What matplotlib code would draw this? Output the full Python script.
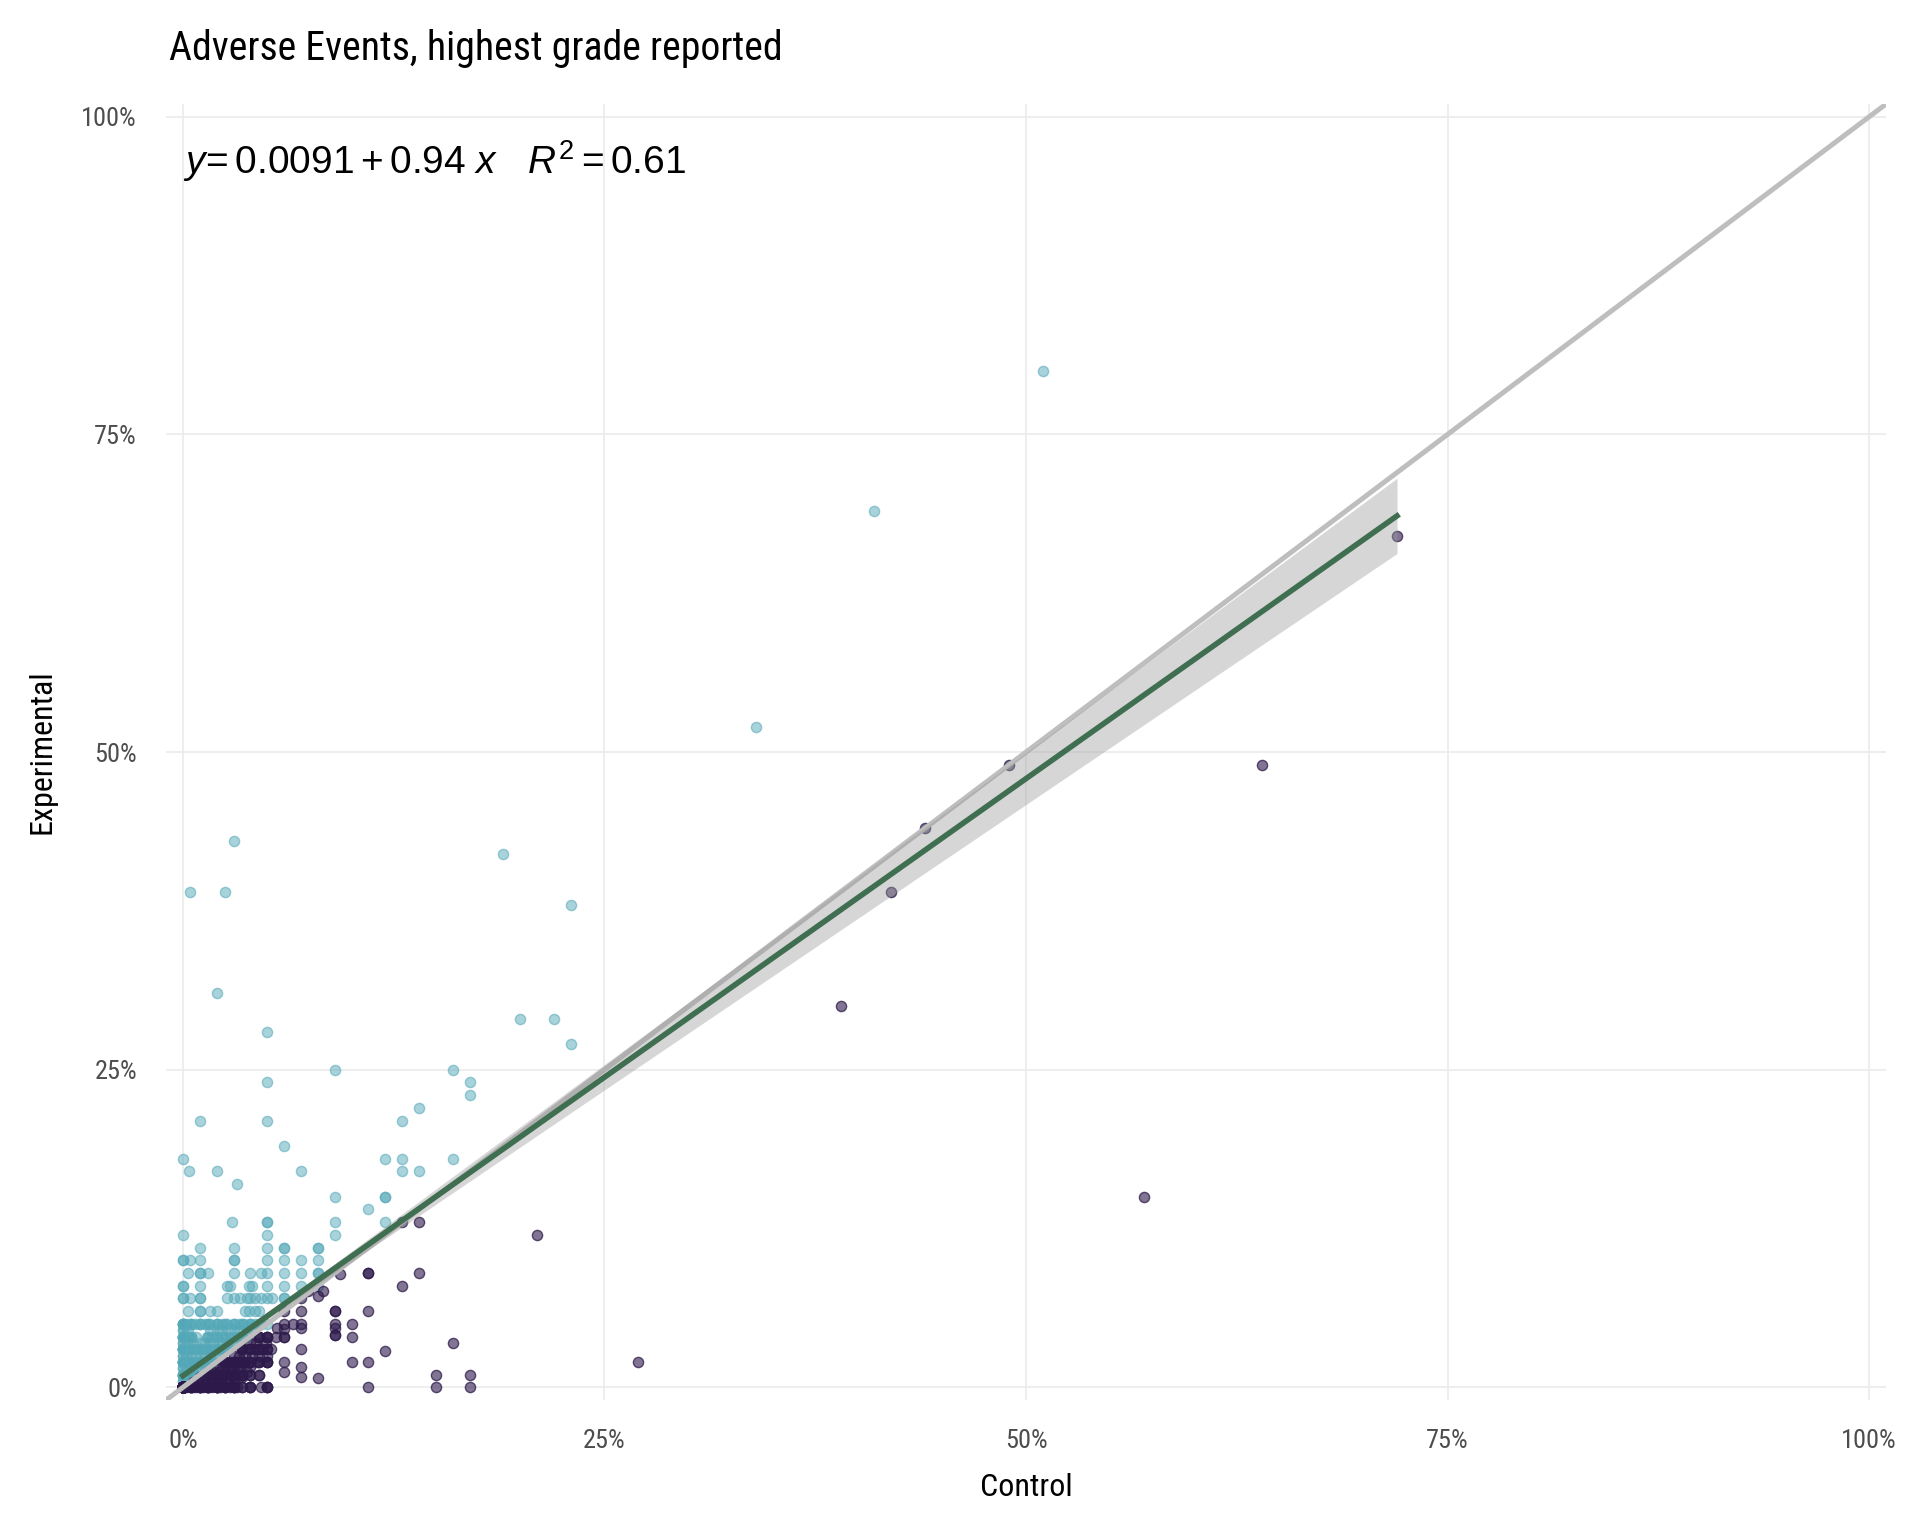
import numpy as np
import matplotlib
matplotlib.use("Agg")
import matplotlib.pyplot as plt
from matplotlib import font_manager as fm
from matplotlib.ticker import FuncFormatter

# ---------------- data (percent) ----------------
# points with Experimental above Control (teal)
teal_control = [
    51, 41, 34, 3, 0.4, 2.5, 19, 23, 2, 20, 22, 23, 5, 9, 16, 17, 17, 5, 1, 5, 13, 14, 6,
    0, 0.35, 2, 7, 3.2, 12, 13, 16, 13, 14, 9, 12, 12, 11, 2.9, 5, 5, 9, 12, 0, 5, 9,
    1, 3, 5, 6, 6, 8, 8,
    0, 0, 0.4, 1, 3, 3, 5, 6, 7, 8,
    0.3, 1, 1, 1.5, 3, 4, 4.6, 5, 6, 7, 8, 8,
    0, 0, 1, 2.6, 2.8, 3.9, 4.1, 5, 6, 7, 8,
    0, 0, 0.4, 1, 1, 2.6, 3, 3.4, 3.8, 4, 4.3, 4.6, 5, 5.3, 6, 6,
    0.3, 1, 1, 1.6, 2, 3.7, 3.9, 4.3, 4.5,
    0, 0, 0.2, 0.4, 0.7, 1, 1.3, 1.6, 2, 2.3, 2.6, 3, 3.3, 3.6, 4, 4.3, 4.6, 5,
    0, 0, 0.3, 1.6, 2, 2.3, 2.7, 3, 3.4, 3.8, 4.2,
    0, 0, 0, 0.3, 0.5, 0.8, 1.4, 1.7, 2, 2.4, 2.8, 3.2, 3.5, 3.8,
    0, 0, 0.3, 0.6, 1, 1.3, 1.6, 2, 2.3, 2.6, 3, 3.2,
    0, 0, 0, 0.3, 0.6, 0.9, 1.2, 1.5, 1.8, 2.1, 2.4, 2.7,
    0, 0, 0.2, 0.5, 0.8, 1, 1.3, 1.6, 1.9, 2.2,
    0, 0, 0, 0.3, 0.5, 0.8, 1, 1.2, 1.5, 1.7,
    0, 0, 0.2, 0.4, 0.6, 0.9, 1.1, 1.3,
    0, 0, 0, 0.2, 0.4, 0.6, 0.8,
    0, 0, 0.2, 0.4,
]
teal_experimental = [
    80, 69, 52, 43, 39, 39, 42, 38, 31, 29, 29, 27, 28, 25, 25, 24, 23, 24, 21, 21, 21, 22, 19,
    18, 17, 17, 17, 16, 18, 18, 18, 17, 17, 15, 15, 15, 14, 13, 13, 13, 13, 13, 12, 12, 12,
    11, 11, 11, 11, 11, 11, 11,
    10, 10, 10, 10, 10, 10, 10, 10, 10, 10,
    9, 9, 9, 9, 9, 9, 9, 9, 9, 9, 9, 9,
    8, 8, 8, 8, 8, 8, 8, 8, 8, 8, 8,
    7, 7, 7, 7, 7, 7, 7, 7, 7, 7, 7, 7, 7, 7, 7, 7,
    6, 6, 6, 6, 6, 6, 6, 6, 6,
    5, 5, 5, 5, 5, 5, 5, 5, 5, 5, 5, 5, 5, 5, 5, 5, 5, 5,
    4.5, 4.5, 4.5, 4.5, 4.5, 4.5, 4.5, 4.5, 4.5, 4.5, 4.5,
    4, 4, 4, 4, 4, 4, 4, 4, 4, 4, 4, 4, 4, 4,
    3.5, 3.5, 3.5, 3.5, 3.5, 3.5, 3.5, 3.5, 3.5, 3.5, 3.5, 3.5,
    3, 3, 3, 3, 3, 3, 3, 3, 3, 3, 3, 3,
    2.5, 2.5, 2.5, 2.5, 2.5, 2.5, 2.5, 2.5, 2.5, 2.5,
    2, 2, 2, 2, 2, 2, 2, 2, 2, 2,
    1.5, 1.5, 1.5, 1.5, 1.5, 1.5, 1.5, 1.5,
    1, 1, 1, 1, 1, 1, 1,
    0.5, 0.5, 0.5, 0.5,
]
# heavily overplotted teal spots in the corner: location and number of points
teal_core_control = [0, 0.5,
                     0, 0.5, 1, 1.5,
                     0, 0.5, 1, 1.5, 2, 2.5,
                     0, 0.5, 1.5, 2, 2.5, 3, 3.5,
                     0, 0.5, 1, 1.5, 2, 2.5, 3, 3.5, 4, 4.5]
teal_core_experimental = [1, 1,
                          2, 2, 2, 2,
                          3, 3, 3, 3, 3, 3,
                          4, 4, 4, 4, 4, 4, 4,
                          5, 5, 5, 5, 5, 5, 5, 5, 5, 5]
teal_core_count = [5, 3,
                   5, 3, 3, 2,
                   5, 3, 3, 3, 3, 2,
                   4, 2, 2, 2, 2, 2, 2,
                   4, 2, 2, 2, 2, 2, 2, 2, 2, 2]

# points with Experimental at or below Control (purple)
purple_control = [
    72, 64, 49, 44, 42, 39, 57, 27, 21, 14, 13, 14, 13, 11, 11, 11, 12, 16, 10, 10, 10, 11,
    15, 17, 11, 15, 17, 9.3, 9, 9, 9, 9, 9, 9, 7, 6, 6, 6.5, 7, 6, 6, 5.6, 6, 7, 6, 6, 7, 8,
    7, 7.4, 8, 8.3, 7, 7,
    0, 0, 0.2, 0.4, 0.6, 0.8, 1, 1.2, 1.4, 1.7, 2, 2.2, 2.5, 2.8, 3, 3.2, 4, 4.6, 5,
    0.6, 0.9, 1.2, 1.5, 1.8, 2.2, 2.6, 3,
    1, 1.3, 1.6, 2, 2.3, 2.7, 3.1, 3.5,
    1.5, 1.8, 2.1, 2.5, 2.9, 3.3, 3.8,
    2, 2.3, 2.7, 3, 3.4, 4,
    2.4, 2.8, 3.2, 3.6, 4, 4.4, 5,
    3, 3.3, 3.7, 4.1, 4.5, 5,
    3.5, 3.9, 4.3, 4.7, 5.2,
    4, 4.35, 4.9,
    4.5, 5, 5.5,
]
purple_experimental = [
    67, 49, 49, 44, 39, 30, 15, 2, 12, 13, 13, 9, 8, 9, 9, 6, 2.9, 3.5, 5, 4, 2, 2,
    1, 1, 0, 0, 0, 8.9, 6, 6, 5, 4.7, 4.1, 4.1, 6, 6, 5, 5, 5, 4, 4, 4.7, 4.6, 3, 2, 1.2, 0.8, 0.75,
    7, 7.6, 7.2, 7.6, 4.7, 1.6,
    0, 0, 0, 0, 0, 0, 0, 0, 0, 0, 0, 0, 0, 0, 0, 0, 0, 0, 0,
    0.4, 0.4, 0.4, 0.4, 0.4, 0.4, 0.4, 0.4,
    0.8, 0.8, 0.8, 0.8, 0.8, 0.8, 0.8, 0.8,
    1.2, 1.2, 1.2, 1.2, 1.2, 1.2, 1.2,
    1.6, 1.6, 1.6, 1.6, 1.6, 1.6,
    2, 2, 2, 2, 2, 2, 2,
    2.5, 2.5, 2.5, 2.5, 2.5, 2.5,
    3, 3, 3, 3, 3,
    3.5, 3.5, 3.5,
    4, 4, 4,
]
# heavily overplotted purple spots in the corner: location and number of points
purple_core_control = [0, 0.5, 1, 1.5, 2, 2.5, 3, 3.5, 4, 5,
                       1.5, 2, 2.5, 3, 3.5, 4, 4.5,
                       2.5, 3, 3.5, 4, 4.5, 5,
                       3.5, 4, 4.5, 5,
                       4.5, 5]
purple_core_experimental = [0, 0, 0, 0, 0, 0, 0, 0, 0, 0,
                            1, 1, 1, 1, 1, 1, 1,
                            2, 2, 2, 2, 2, 2,
                            3, 3, 3, 3,
                            4, 4]
purple_core_count = [700, 4, 4, 4, 4, 3, 3, 2, 2, 2,
                     4, 4, 3, 3, 3, 2, 2,
                     3, 3, 3, 2, 2, 2,
                     3, 2, 2, 2,
                     2, 2]

# regression reported on the chart
fit_intercept = 0.0091
fit_slope = 0.94

x_ticks = [0, 0.25, 0.5, 0.75, 1.0]
y_ticks = [0, 0.25, 0.5, 0.75, 1.0]
title = "Adverse Events, highest grade reported"
equation = r"$y\!=0.0091 + 0.94\ x\ \ \ R^2 = 0.61$"

# ---------------- fonts ----------------
def pick(cands):
    for c in cands:
        try:
            fm.findfont(fm.FontProperties(family=c), fallback_to_default=False)
            return c
        except Exception:
            pass
    return "DejaVu Sans"

narrow = pick(["Roboto Condensed", "Liberation Sans Narrow", "Roboto", "DejaVu Sans"])
sans = pick(["Liberation Sans", "Arial", "DejaVu Sans"])
plt.rcParams["font.family"] = [narrow, "DejaVu Sans"]
plt.rcParams["mathtext.fontset"] = "custom"
plt.rcParams["mathtext.rm"] = sans
plt.rcParams["mathtext.it"] = sans + ":italic"
plt.rcParams["mathtext.bf"] = sans + ":bold"

# ---------------- figure ----------------
fig = plt.figure(figsize=(9.6, 7.68), dpi=200)
ax = fig.add_axes([0.0865, 0.0885, 0.8958, 0.84375])

tx = np.concatenate([teal_control, np.repeat(teal_core_control, teal_core_count)]) / 100
ty = np.concatenate([teal_experimental, np.repeat(teal_core_experimental, teal_core_count)]) / 100
px = np.concatenate([purple_control, np.repeat(purple_core_control, purple_core_count)]) / 100
py = np.concatenate([purple_experimental, np.repeat(purple_core_experimental, purple_core_count)]) / 100

teal = "#52A8B8"
purple = "#2D1A4B"
msize = 13.5
ax.scatter(tx, ty, s=msize, facecolors=matplotlib.colors.to_rgba(teal, 0.5),
           edgecolors=matplotlib.colors.to_rgba("#5BAABA", 0.6), linewidths=0.5, zorder=2)
ax.scatter(px, py, s=msize, facecolors=matplotlib.colors.to_rgba(purple, 0.6),
           edgecolors=matplotlib.colors.to_rgba(purple, 0.75), linewidths=0.5, zorder=2)

# identity line
ax.axline((0, 0), slope=1, color="#BEBEBE", lw=1.8, zorder=3, solid_capstyle="butt")

# regression line with 95% confidence band
X = np.concatenate([tx, px])
Y = np.concatenate([ty, py])
n = len(X)
resid = Y - (fit_intercept + fit_slope * X)
sigma = np.sqrt(np.sum(resid ** 2) / (n - 2))
xbar = X.mean()
sxx = np.sum((X - xbar) ** 2)
xs = np.linspace(X.min(), X.max(), 100)
fit = fit_intercept + fit_slope * xs
se = sigma * np.sqrt(1 / n + (xs - xbar) ** 2 / sxx)
ax.fill_between(xs, fit - 1.96 * se, fit + 1.96 * se, color="#999999", alpha=0.4,
                linewidth=0, zorder=4)
ax.plot(xs, fit, color="#3F6E50", lw=2.0, zorder=5)

ax.text(0.0, 0.955, equation, fontsize=14, color="black", ha="left", va="baseline", zorder=6)

# axes styling
ax.set_xlim(-0.01, 1.01)
ax.set_ylim(-0.01, 1.01)
ax.set_xticks(x_ticks)
ax.set_yticks(y_ticks)
pct = FuncFormatter(lambda v, p: f"{v * 100:.0f}%")
ax.xaxis.set_major_formatter(pct)
ax.yaxis.set_major_formatter(pct)
ax.grid(True, color="#EBEBEB", lw=0.6, zorder=0)
ax.set_axisbelow(True)
for s in ax.spines.values():
    s.set_visible(False)
ax.tick_params(length=0, labelsize=9.5, labelcolor="#4D4D4D", pad=10.5)
ax.set_xlabel("Control", fontsize=11.5, labelpad=7)
ax.set_ylabel("Experimental", fontsize=11.5, labelpad=9)
fig.text(0.0878, 0.961, title, fontsize=14.3, ha="left", va="baseline")

fig.savefig("out.png", dpi=200, facecolor="white")
